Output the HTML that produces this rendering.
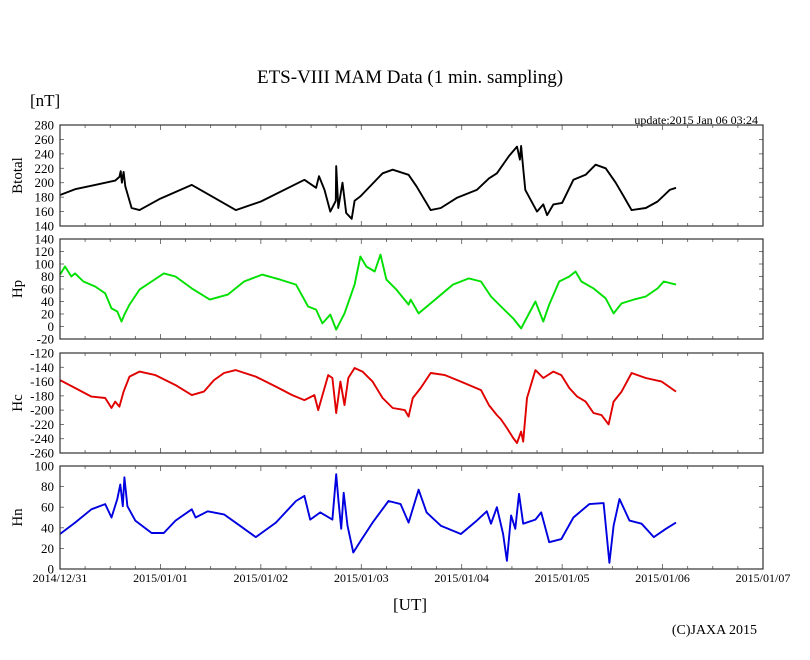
<!DOCTYPE html>
<html><head><meta charset="utf-8"><style>
body{margin:0;background:#fff;width:810px;height:655px;overflow:hidden}
svg{font-family:"Liberation Serif",serif}
</style></head><body>
<svg id="c" width="810" height="655" xmlns="http://www.w3.org/2000/svg">
<text x="410" y="83" font-size="19" text-anchor="middle">ETS-VIII MAM Data (1 min. sampling)</text>
<text x="30" y="106" font-size="17">[nT]</text>
<text x="758" y="124" font-size="12" text-anchor="end">update:2015 Jan 06 03:24</text>
<text x="410" y="610" font-size="17" text-anchor="middle">[UT]</text>
<text x="757" y="634" font-size="14" text-anchor="end">(C)JAXA 2015</text>
</svg>
<script>
const dayLabels=["2014/12/31","2015/01/01","2015/01/02","2015/01/03","2015/01/04","2015/01/05","2015/01/06","2015/01/07"];
const btHours=[0,3.6,8.4,13.2,14.2,14.5,14.8,15.2,15.6,17.1,19.0,24,31.5,37.2,42.0,48,58.4,61.2,61.9,63.2,64.6,65.9,66.0,66.5,67.5,68.4,69.7,70.4,71.8,77.1,79.5,83.3,85.2,88.6,91.0,94.8,99.6,102.5,104.4,107.3,109.2,109.9,110.2,110.7,111.2,114.0,115.5,116.4,117.9,120,122.7,125.6,128.0,130.4,132.8,134.7,136.6,140.0,142.8,145.7,147.2];
const btValues=[183,191,197,203,208,216,200,215,195,165,162,178,197,178,162,174,204,193,209,190,160,175,223,165,200,158,150,175,181,213,218,211,195,162,165,179,190,206,213,237,250,232,251,220,190,160,170,155,170,172,204,211,225,220,200,181,162,165,174,190,193];
const hpHours=[0,1.2,2.7,3.6,5.6,8.4,10.8,12.3,13.7,14.7,15.4,16.6,19.0,21.9,24.8,27.6,31.5,35.8,40.1,44.0,48.3,52.6,56.4,59.3,61.2,62.7,64.6,66.0,68.0,70.4,71.8,73.2,75.2,76.6,78.0,80.4,83.3,83.8,85.7,90.0,93.9,97.7,100.6,103.0,105.4,108.3,110.2,113.6,115.5,116.9,119.3,121.7,123.2,124.6,127.5,130.4,132.3,134.2,137.1,140.0,142.8,144.3,147.2];
const hpValues=[83,96,80,85,72,64,53,29,24,8,19,35,59,72,85,80,61,43,51,72,83,75,67,32,27,5,19,-5,21,67,112,96,88,115,75,59,35,43,21,45,67,77,72,48,32,13,-3,40,8,35,72,80,88,72,61,45,21,37,43,48,61,72,67];
const hcHours=[0,3.6,7.5,10.8,12.3,13.2,14.2,15.2,16.6,19.0,22.8,27.6,31.5,34.4,36.8,39.2,42.0,46.8,51.6,55.5,58.4,60.8,61.7,64.1,65.1,66.0,67.0,68.0,68.9,70.4,72.3,74.7,77.1,79.5,82.4,83.3,84.3,86.2,88.6,92.0,95.8,100.6,102.5,104.4,105.4,106.8,108.3,109.2,110.2,110.7,111.6,113.6,115.5,117.9,119.8,121.7,123.6,125.6,127.5,129.4,131.1,132.3,134.2,136.6,140.0,143.8,147.2];
const hcValues=[-158,-169,-181,-183,-197,-188,-195,-174,-153,-146,-151,-165,-179,-174,-158,-148,-144,-153,-167,-179,-186,-179,-200,-151,-155,-204,-160,-193,-155,-141,-146,-160,-183,-197,-200,-209,-183,-169,-148,-151,-160,-172,-193,-207,-213,-225,-239,-246,-230,-244,-183,-144,-155,-146,-151,-169,-181,-188,-204,-207,-220,-188,-174,-148,-155,-160,-174];
const hnHours=[0,3.6,7.5,10.8,12.3,13.7,14.4,15.0,15.4,16.1,18.0,21.9,24.8,27.6,31.5,32.4,35.3,39.2,43.0,46.8,51.6,56.4,58.4,59.8,62.2,65.1,66.0,66.5,67.2,67.8,68.7,70.1,71.8,74.7,78.5,81.4,83.3,85.7,87.6,91.0,95.8,99.6,102.0,103.0,104.4,105.9,106.8,107.8,108.8,109.7,110.7,113.6,115.0,116.9,119.8,122.7,126.5,129.9,131.3,132.3,133.7,136.1,139.0,141.9,144.8,147.2];
const hnValues=[34,45,58,63,50,68,82,61,89,61,47,35,35,47,58,50,56,53,42,31,45,66,71,48,55,48,92,68,39,74,42,16,27,45,66,63,45,77,55,42,34,47,56,44,60,34,8,52,39,73,44,48,55,26,29,50,63,64,6,42,68,47,44,31,39,45];
const panels=[
 {name:"btotal",label:"Btotal",top:125,bot:226,min:140,max:280,step:20,color:"#000",h:btHours,v:btValues},
 {name:"hp",label:"Hp",top:239,bot:339,min:-20,max:140,step:20,color:"#00e000",h:hpHours,v:hpValues},
 {name:"hc",label:"Hc",top:353,bot:453,min:-260,max:-120,step:20,color:"#e00000",h:hcHours,v:hcValues},
 {name:"hn",label:"Hn",top:466,bot:569,min:0,max:100,step:20,color:"#0000e0",h:hnHours,v:hnValues}];
const L=60,R=763,NS="http://www.w3.org/2000/svg",svg=document.getElementById('c');
const xs=h=>L+h*(R-L)/168;
function mk(t,a,p){const e=document.createElementNS(NS,t);for(const k in a)e.setAttribute(k,a[k]);(p||svg).appendChild(e);return e;}
panels.forEach(p=>{
 const g=mk('g',{});
 
 
 const ys=v=>p.bot-(v-p.min)*(p.bot-p.top)/(p.max-p.min);
 for(let hh=6;hh<168;hh+=6){const x=xs(hh),len=hh%24?3:5;
  mk('line',{x1:x,x2:x,y1:p.top,y2:p.top+len,stroke:'#555','stroke-width':0.8},g);
  mk('line',{x1:x,x2:x,y1:p.bot,y2:p.bot-len,stroke:'#555','stroke-width':0.8},g);}
 for(let v=p.min;v<=p.max;v+=p.step){const y=ys(v);
  mk('line',{x1:L,x2:L+4,y1:y,y2:y,stroke:'#555','stroke-width':0.8},g);
  mk('line',{x1:R,x2:R-4,y1:y,y2:y,stroke:'#555','stroke-width':0.8},g);
  const t=mk('text',{x:54,y:y+4.5,'font-size':13,'text-anchor':'end'},g);t.textContent=v;
  
  }
 let d='';p.h.forEach((hh,i)=>{d+=(i?'L':'M')+xs(hh).toFixed(1)+' '+ys(p.v[i]).toFixed(1);});
 const path=mk('path',{d:d,fill:'none',stroke:p.color,'stroke-width':1.9,'stroke-linejoin':'round'},g);
 
 
 const fr=mk('rect',{x:L,y:p.top,width:R-L,height:p.bot-p.top,fill:'none',stroke:'#333','stroke-width':1.2},g);
 
 
 const cy=(p.top+p.bot)/2;
 const lab=mk('text',{x:0,y:0,'font-size':15,'text-anchor':'middle',transform:`translate(22 ${cy}) rotate(-90)`},g);
 lab.textContent=p.label;
 
 
});
dayLabels.forEach((s,i)=>{const t=mk('text',{x:xs(i*24),y:582,'font-size':12,'text-anchor':'middle'});t.textContent=s;
 
 });
</script>
</body></html>
